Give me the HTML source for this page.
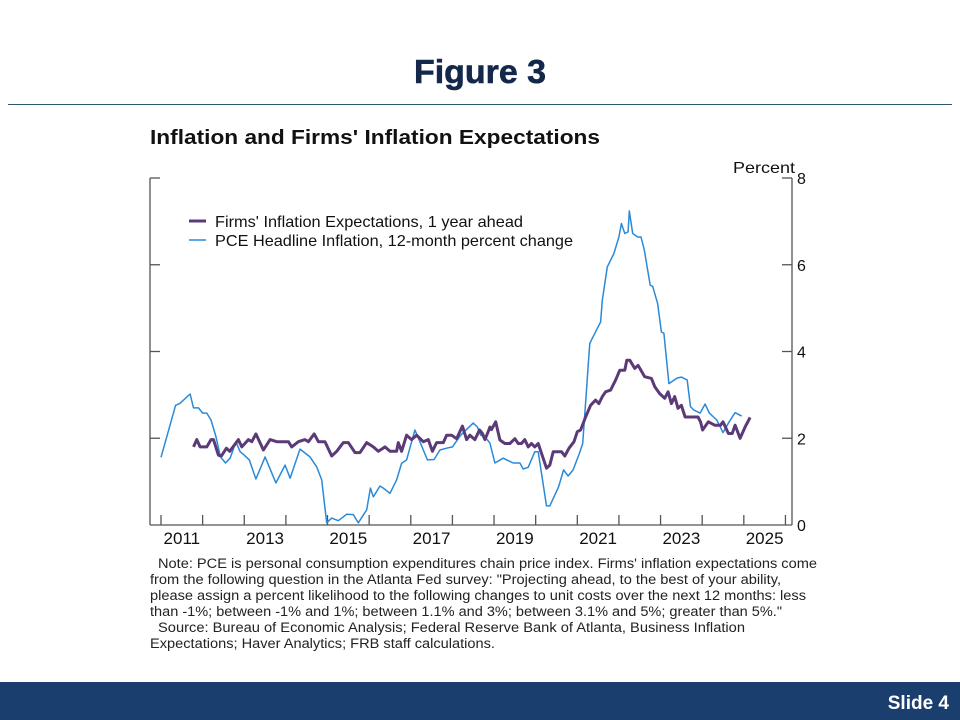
<!DOCTYPE html>
<html><head><meta charset="utf-8"><style>
html,body{margin:0;padding:0;background:#fff;}
body{width:960px;height:720px;overflow:hidden;position:relative;font-family:"Liberation Sans",sans-serif;}
</style></head><body>
<svg id="chart" width="960" height="720" xmlns="http://www.w3.org/2000/svg" style="position:absolute;left:0;top:0;font-family:'Liberation Sans',sans-serif">
<text x="414" y="83" textLength="132" lengthAdjust="spacingAndGlyphs" font-size="33" font-weight="bold" fill="#14284b" stroke="#14284b" stroke-width="0.6">Figure 3</text>
<line x1="8" y1="104.5" x2="952" y2="104.5" stroke="#2e5a6e" stroke-width="1"/>
<text x="150" y="144" textLength="450" lengthAdjust="spacingAndGlyphs" font-size="20" font-weight="bold" fill="#111">Inflation and Firms' Inflation Expectations</text>
<text x="733" y="173" textLength="62" lengthAdjust="spacingAndGlyphs" font-size="16" fill="#111">Percent</text>
<g id="axes"></g>
<g id="series"></g>
<g>
<line x1="189" y1="221" x2="206" y2="221" stroke="#5b3a78" stroke-width="3"/>
<text x="215" y="227" textLength="308" lengthAdjust="spacingAndGlyphs" font-size="16" fill="#111">Firms' Inflation Expectations, 1 year ahead</text>
<line x1="189" y1="240" x2="206" y2="240" stroke="#2a8ad8" stroke-width="1.5"/>
<text x="215" y="246" textLength="358" lengthAdjust="spacingAndGlyphs" font-size="16" fill="#111">PCE Headline Inflation, 12-month percent change</text>
</g>
<g font-size="13.5" fill="#222">
<text x="158" y="568" textLength="659" lengthAdjust="spacingAndGlyphs">Note: PCE is personal consumption expenditures chain price index. Firms' inflation expectations come</text>
<text x="150" y="584" textLength="631" lengthAdjust="spacingAndGlyphs">from the following question in the Atlanta Fed survey: "Projecting ahead, to the best of your ability,</text>
<text x="150" y="600" textLength="656" lengthAdjust="spacingAndGlyphs">please assign a percent likelihood to the following changes to unit costs over the next 12 months: less</text>
<text x="150" y="616" textLength="632" lengthAdjust="spacingAndGlyphs">than -1%; between -1% and 1%; between 1.1% and 3%; between 3.1% and 5%; greater than 5%."</text>
<text x="158" y="632" textLength="587" lengthAdjust="spacingAndGlyphs">Source: Bureau of Economic Analysis; Federal Reserve Bank of Atlanta, Business Inflation</text>
<text x="150" y="648" textLength="345" lengthAdjust="spacingAndGlyphs">Expectations; Haver Analytics; FRB staff calculations.</text>
</g>
<rect x="0" y="682" width="960" height="38" fill="#1a3f6e"/>
<text x="949" y="709" text-anchor="end" font-size="19" font-weight="bold" fill="#fff">Slide 4</text>
</svg>
<script>
const pceDates = [2011.0,2011.35,2011.45,2011.7,2011.78,2011.9,2012.0,2012.1,2012.2,2012.32,2012.43,2012.55,2012.66,2012.8,2012.9,2013.0,2013.12,2013.28,2013.5,2013.76,2013.98,2014.1,2014.34,2014.58,2014.74,2014.86,2014.98,2015.1,2015.26,2015.46,2015.62,2015.74,2015.94,2016.03,2016.1,2016.26,2016.34,2016.5,2016.66,2016.78,2016.9,2017.1,2017.22,2017.4,2017.56,2017.7,2017.86,2018.0,2018.2,2018.5,2018.6,2018.68,2018.78,2018.9,2019.02,2019.22,2019.46,2019.62,2019.7,2019.82,2019.98,2020.06,2020.26,2020.34,2020.55,2020.67,2020.78,2020.9,2021.05,2021.13,2021.22,2021.26,2021.3,2021.46,2021.56,2021.6,2021.72,2021.88,2022.0,2022.06,2022.14,2022.22,2022.25,2022.33,2022.45,2022.53,2022.61,2022.75,2022.81,2022.93,2023.02,2023.08,2023.2,2023.4,2023.5,2023.64,2023.72,2023.8,2023.95,2024.07,2024.17,2024.35,2024.5,2024.65,2024.79,2024.95,2025.07];
const pceValues = [1.56,2.76,2.8,3.02,2.7,2.7,2.58,2.58,2.42,2.03,1.57,1.43,1.54,1.92,1.69,1.61,1.5,1.06,1.57,0.97,1.38,1.08,1.75,1.57,1.34,1.04,0.05,0.16,0.1,0.25,0.24,0.05,0.35,0.85,0.65,0.9,0.85,0.73,1.04,1.42,1.5,2.19,1.92,1.5,1.51,1.73,1.77,1.8,2.07,2.35,2.26,2.07,2.03,1.89,1.43,1.54,1.43,1.43,1.29,1.33,1.69,1.69,0.44,0.44,0.88,1.27,1.13,1.27,1.65,1.88,3.11,3.65,4.19,4.49,4.68,5.18,5.95,6.26,6.64,6.95,6.72,6.76,7.24,6.72,6.64,6.64,6.34,5.53,5.5,5.11,4.45,4.42,3.26,3.39,3.41,3.34,2.73,2.65,2.58,2.79,2.58,2.42,2.13,2.38,2.59,2.51];
const firmDates = [2011.78,2011.86,2011.94,2012.1,2012.2,2012.26,2012.38,2012.45,2012.57,2012.65,2012.86,2012.94,2013.1,2013.18,2013.28,2013.46,2013.62,2013.78,2014.06,2014.14,2014.3,2014.46,2014.54,2014.68,2014.78,2014.94,2015.1,2015.22,2015.38,2015.5,2015.66,2015.78,2015.94,2016.1,2016.22,2016.38,2016.5,2016.66,2016.7,2016.78,2016.9,2017.02,2017.14,2017.3,2017.42,2017.52,2017.62,2017.78,2017.86,2017.98,2018.1,2018.24,2018.34,2018.42,2018.54,2018.65,2018.72,2018.78,2018.86,2018.9,2018.94,2019.04,2019.14,2019.26,2019.38,2019.5,2019.58,2019.66,2019.74,2019.82,2019.9,2019.98,2020.06,2020.26,2020.34,2020.42,2020.62,2020.7,2020.8,2020.92,2021.0,2021.08,2021.2,2021.32,2021.44,2021.52,2021.6,2021.68,2021.8,2021.92,2022.02,2022.14,2022.19,2022.26,2022.38,2022.46,2022.62,2022.78,2022.86,2022.98,2023.1,2023.18,2023.26,2023.34,2023.42,2023.5,2023.59,2023.9,2023.96,2024.01,2024.15,2024.3,2024.44,2024.5,2024.63,2024.72,2024.79,2024.91,2025.03,2025.15];
const firmValues = [1.8,1.97,1.8,1.8,1.97,1.97,1.61,1.59,1.77,1.7,1.97,1.8,1.97,1.92,2.1,1.73,1.97,1.92,1.92,1.8,1.92,1.97,1.92,2.1,1.92,1.92,1.59,1.7,1.9,1.9,1.67,1.67,1.9,1.8,1.7,1.8,1.7,1.7,1.9,1.7,2.07,1.97,2.07,1.92,1.97,1.7,1.9,1.9,2.07,2.07,1.99,2.28,1.97,2.07,1.97,2.19,2.11,1.97,2.15,2.26,2.2,2.38,1.96,1.88,1.88,1.99,1.88,1.88,1.97,1.8,1.88,1.8,1.88,1.31,1.38,1.69,1.69,1.59,1.77,1.92,2.15,2.19,2.49,2.76,2.88,2.8,2.96,3.07,3.11,3.34,3.57,3.57,3.8,3.8,3.61,3.68,3.42,3.38,3.19,3.03,2.92,3.07,2.8,2.96,2.69,2.76,2.49,2.49,2.38,2.19,2.38,2.3,2.3,2.38,2.11,2.11,2.3,2.0,2.26,2.48];
const yTicks = [0,2,4,6,8];
const xTickYears = [2011,2012,2013,2014,2015,2016,2017,2018,2019,2020,2021,2022,2023,2024,2025,2026];
const xLabels = ["2011","2013","2015","2017","2019","2021","2023","2025"];

const NS = "http://www.w3.org/2000/svg";
const X0 = 150, X1 = 792, Y0 = 525, Y1 = 178;
function xs(t){ return 161 + (t - 2011) * 41.63; }
function ys(v){ return Y0 - (v / 8) * (Y0 - Y1); }
function mk(tag, attrs, parent){ const e = document.createElementNS(NS, tag); for (const k in attrs) e.setAttribute(k, attrs[k]); parent.appendChild(e); return e; }

const axes = document.getElementById('axes');
const ac = "#555";
let e;
e = mk('line', {x1:X0, y1:Y1, x2:X0, y2:Y0, stroke:ac, 'stroke-width':1.3}, axes);


e = mk('line', {x1:X1, y1:Y1, x2:X1, y2:Y0, stroke:ac, 'stroke-width':1.3}, axes);


e = mk('line', {x1:X0, y1:Y0, x2:X1, y2:Y0, stroke:ac, 'stroke-width':1.3}, axes);


yTicks.forEach(v => {
  const y = ys(v);
  if (v > 0) {
    let t = mk('line', {x1:X0, y1:y, x2:X0 + 10, y2:y, stroke:ac, 'stroke-width':1.3}, axes);
    
    
    t = mk('line', {x1:X1 - 10, y1:y, x2:X1, y2:y, stroke:ac, 'stroke-width':1.3}, axes);
    
    
  }
  const l = mk('text', {x:X1 + 5, y:y + 6, 'font-size':16, fill:'#111'}, axes);
  l.textContent = v;
  
  
});
xTickYears.forEach(yr => {
  const x = xs(yr);
  const t = mk('line', {x1:x, y1:Y0 - 10, x2:x, y2:Y0, stroke:ac, 'stroke-width':1.3}, axes);
  
  
});
xLabels.forEach(s => {
  const x = xs(+s + 0.5);
  const l = mk('text', {x:x, y:Y0 + 19, 'font-size':17, fill:'#111', 'text-anchor':'middle'}, axes);
  l.textContent = s;
  
  
});

const ser = document.getElementById('series');
function path(dates, vals){ return dates.map((d,i) => (i ? 'L' : 'M') + xs(d).toFixed(1) + ',' + ys(vals[i]).toFixed(1)).join(' '); }
const p1 = mk('path', {d:path(pceDates, pceValues), fill:'none', stroke:'#2a8ad8', 'stroke-width':1.5, 'stroke-linejoin':'round'}, ser);


const p2 = mk('path', {d:path(firmDates, firmValues), fill:'none', stroke:'#5b3a78', 'stroke-width':3, 'stroke-linejoin':'round'}, ser);


</script>
</body></html>
